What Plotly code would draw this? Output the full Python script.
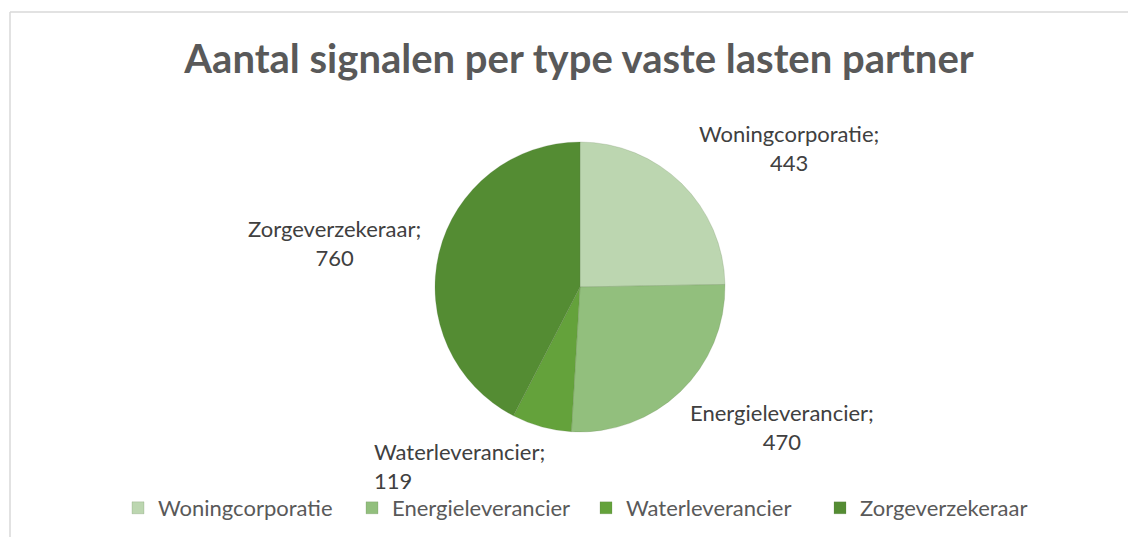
import plotly.graph_objects as go

categories = ["Woningcorporatie", "Energieleverancier", "Waterleverancier", "Zorgeverzekeraar"]
values = [443, 470, 119, 760]
title_text = "Aantal signalen per type vaste lasten partner"

colors = ["#bcd6b0", "#92bf7d", "#64a23b", "#548c33"]

W, H = 1136, 537
OFF = 8  # page body margin

def px(x):
    return (x - OFF) / W

def py(y):
    return 1 - (y - OFF) / H

fig = go.Figure()
fig.add_trace(go.Pie(
    labels=categories,
    values=values,
    sort=False,
    direction="clockwise",
    rotation=0,
    marker=dict(colors=colors, line=dict(color="rgba(90,120,70,0.35)", width=0.6)),
    textinfo="none",
    hoverinfo="label+value",
    domain=dict(x=[px(435), px(725)], y=[py(432), py(142)]),
))

label_pos = [
    (789, 148, "center"),
    (782, 427, "center"),
    (372, 466, "left"),
    (334, 243, "center"),
]
annotations = []
for (cx, cy, al), cat, val in zip(label_pos, categories, values):
    annotations.append(dict(
        x=px(cx), y=py(cy), xref="paper", yref="paper",
        xanchor="center" if al == "center" else "left", yanchor="middle",
        text=f"{cat};<br>{val}", showarrow=False, align=al,
        font=dict(family="Lato, Calibri, sans-serif", size=22, color="#404040"),
    ))

fig.update_layout(
    width=W, height=H,
    margin=dict(l=0, r=0, t=0, b=0),
    paper_bgcolor="white",
    plot_bgcolor="white",
    title=dict(text="<b>" + title_text + "</b>", x=px(579), xanchor="center", y=py(59), yanchor="middle",
               font=dict(family="Lato, Calibri, sans-serif", size=40, color="#595959")),
    showlegend=True,
    legend=dict(orientation="h", x=px(118), xanchor="left", y=py(508), yanchor="middle",
                font=dict(family="Lato, Calibri, sans-serif", size=22, color="#595959"),
                itemwidth=30, traceorder="normal", entrywidth=189),
    annotations=annotations,
    shapes=[
        dict(type="line", xref="paper", yref="paper", x0=px(10), x1=1.0, y0=py(12), y1=py(12),
             line=dict(color="#d9d9d9", width=1.5)),
        dict(type="line", xref="paper", yref="paper", x0=px(10), x1=px(10), y0=py(12), y1=0,
             line=dict(color="#d9d9d9", width=1.5)),
    ],
)

fig.write_html("out.html")
